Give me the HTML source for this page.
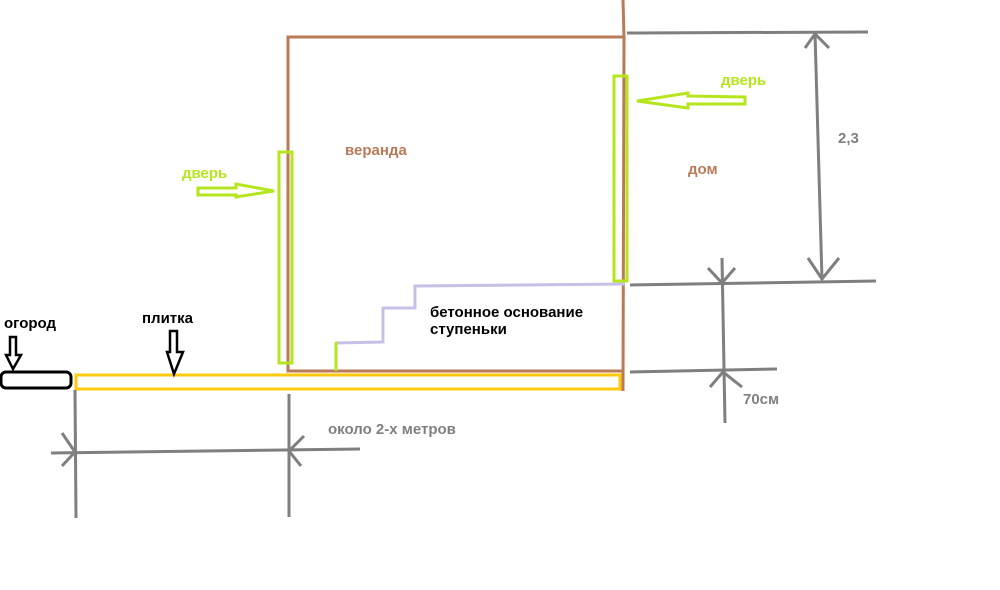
<!DOCTYPE html>
<html><head><meta charset="utf-8"><style>
html,body{margin:0;padding:0;background:#fff;}
svg{display:block;}
text{font-family:"Liberation Sans","DejaVu Sans",sans-serif;font-weight:bold;}
</style></head><body>
<svg width="1000" height="590" viewBox="0 0 1000 590" xmlns="http://www.w3.org/2000/svg">
<rect width="1000" height="590" fill="#fff"/>
<g stroke="#b97a57" stroke-width="3" fill="none">
<polyline points="623,0 624,37 288,37 288,371 622,371"/>
<line x1="624" y1="37" x2="623" y2="391"/>
</g>
<polyline points="336,343 383,342 383,308 415,308 415,286 625,284" stroke="#c8bfe7" stroke-width="3" fill="none"/>
<line x1="336" y1="342" x2="336" y2="371" stroke="#b5e61d" stroke-width="3"/>
<g stroke="#b5e61d" stroke-width="3" fill="none">
<rect x="279" y="152" width="13" height="211"/>
<rect x="614" y="76" width="13" height="205"/>
<polygon points="198,188 236,188 236,184 274,191 236,197 236,195 198,195"/>
<polygon points="637,101 688,93 688,96 745,97 745,104 688,104 688,108"/>
</g>
<rect x="76" y="375" width="544" height="14" stroke="#ffc90e" stroke-width="3" fill="none"/>
<rect x="1" y="372" width="70" height="16" rx="5" stroke="#000" stroke-width="3" fill="none"/>
<g stroke="#000" stroke-width="2.5" fill="none">
<polygon points="10,337 16,337 16,355 21,355 13,369 6,355 10,355"/>
<polygon points="170,331 177,331 177,352 183,352 174,374 167,352 170,352"/>
</g>
<g stroke="#7f7f7f" stroke-width="3" fill="none">
<line x1="627" y1="33" x2="868" y2="32"/>
<line x1="630" y1="285" x2="876" y2="281"/>
<line x1="815" y1="33" x2="822" y2="280"/>
<polyline points="805,48 815,34 829,48"/>
<polyline points="808,258 822,279 839,258"/>
<line x1="630" y1="372" x2="777" y2="369"/>
<line x1="722" y1="258" x2="725" y2="423"/>
<polyline points="708,268 722,283 735,268"/>
<polyline points="710,387 723,372 742,387"/>
<line x1="51" y1="453" x2="360" y2="449"/>
<line x1="75" y1="390" x2="76" y2="518"/>
<line x1="289" y1="394" x2="289" y2="517"/>
<polyline points="62,433 75,452 62,466"/>
<polyline points="304,436 289,451 301,466"/>
</g>
<text x="4" y="328" font-size="15" fill="#000">огород</text>
<text x="142" y="323" font-size="15" fill="#000">плитка</text>
<text x="345" y="155" font-size="15" fill="#b97a57">веранда</text>
<text x="688" y="174" font-size="15" fill="#b97a57">дом</text>
<text x="182" y="178" font-size="15" fill="#b5e61d">дверь</text>
<text x="721" y="85" font-size="15" fill="#b5e61d">дверь</text>
<text x="838" y="143" font-size="15" fill="#7f7f7f">2,3</text>
<text x="743" y="404" font-size="15" fill="#7f7f7f">70см</text>
<text x="328" y="434" font-size="15" fill="#7f7f7f">около 2-х метров</text>
<text x="430" y="317" font-size="15" fill="#000">бетонное основание</text>
<text x="430" y="334" font-size="15" fill="#000">ступеньки</text>
</svg>
</body></html>
